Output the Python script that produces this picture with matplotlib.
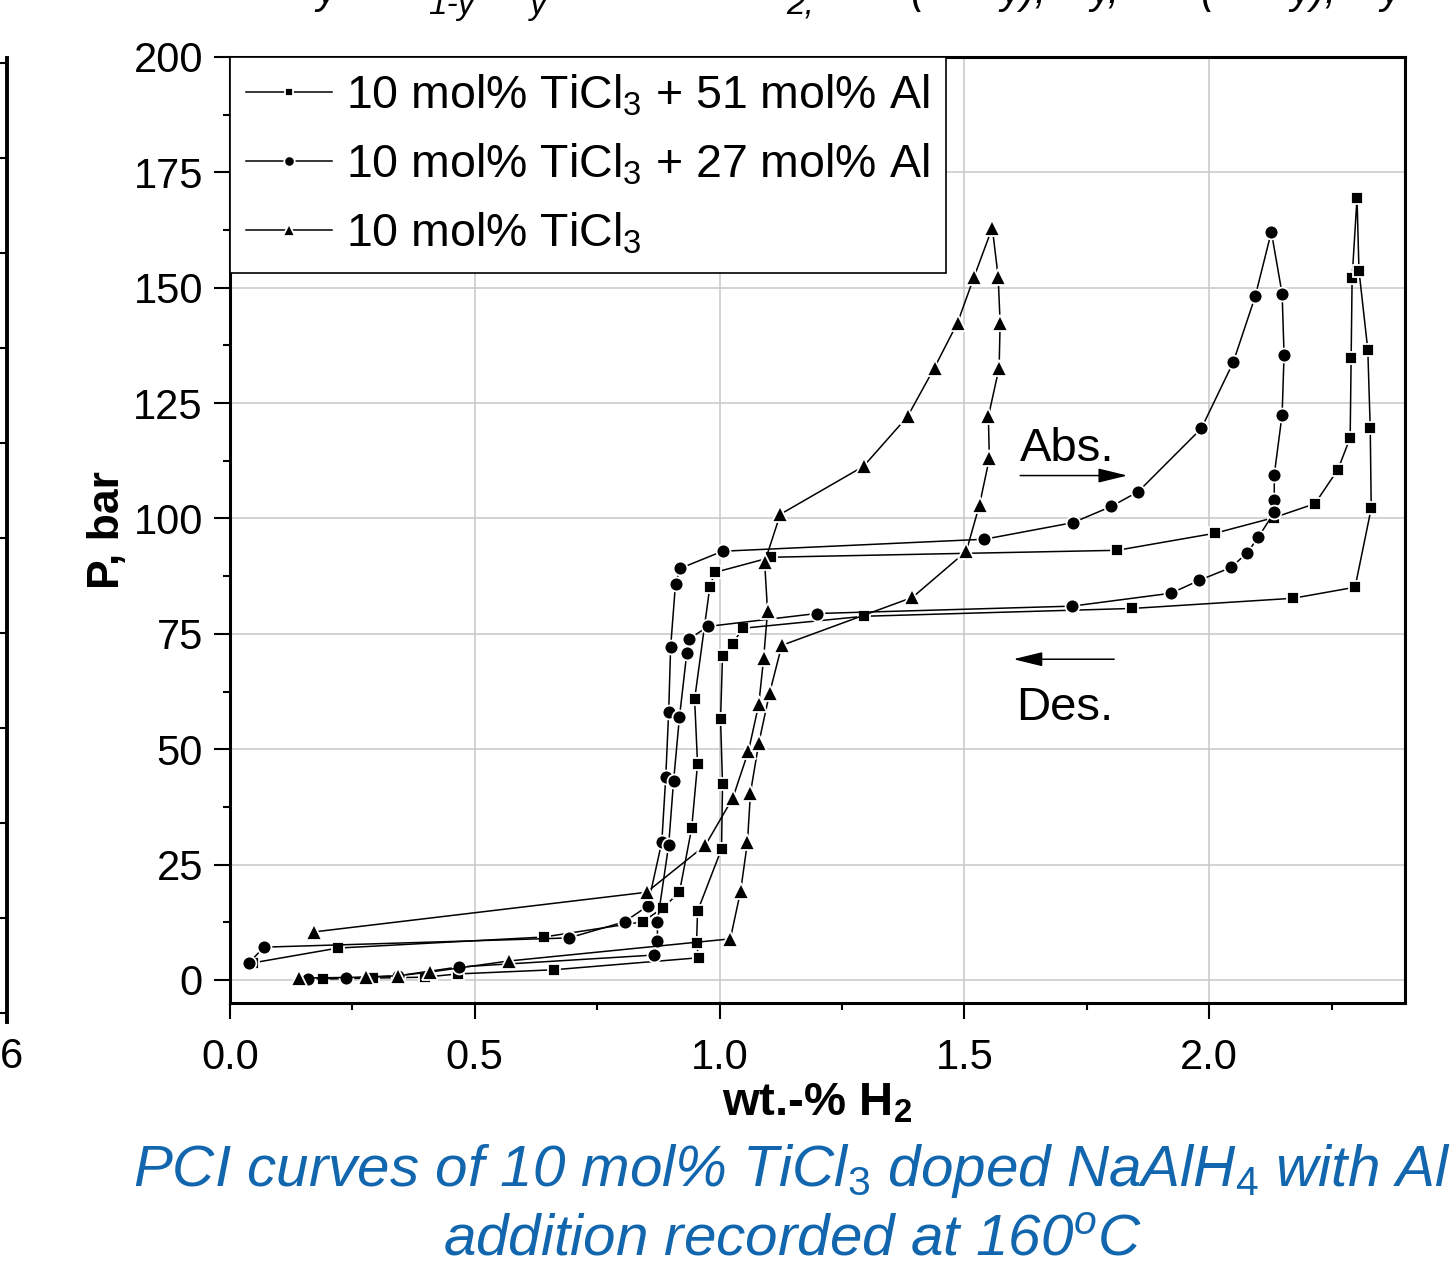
import numpy as np
import matplotlib
matplotlib.use("Agg")
import matplotlib.pyplot as plt

plt.rcParams['font.family'] = ['Liberation Sans', 'DejaVu Sans']
plt.rcParams['mathtext.fontset'] = 'custom'
plt.rcParams['mathtext.rm'] = 'Liberation Sans'
plt.rcParams['mathtext.it'] = 'Liberation Sans:italic'
plt.rcParams['mathtext.bf'] = 'Liberation Sans:bold'
plt.rcParams['mathtext.default'] = 'regular'

# 10 mol% TiCl3 + 51 mol% Al (squares): absorption then desorption
sq_x = [0.047, 0.220, 0.641, 0.843, 0.884, 0.918, 0.943, 0.955, 0.949, 0.980, 0.990, 1.106,
        1.812, 2.012, 2.133, 2.216, 2.263, 2.288, 2.290, 2.292, 2.302,
        2.306, 2.324, 2.329, 2.331, 2.298, 2.171, 1.843, 1.294, 1.047, 1.027, 1.006,
        1.002, 1.006, 1.004, 0.955, 0.953, 0.957, 0.661, 0.465, 0.398, 0.292, 0.190]
sq_p = [3.7, 6.9, 9.3, 12.6, 15.6, 19.0, 32.9, 46.8, 60.8, 85.1, 88.3, 91.6,
        93.1, 96.8, 100.2, 103.2, 110.6, 117.5, 134.8, 152.2, 169.5,
        153.7, 136.6, 119.5, 102.2, 85.1, 82.7, 80.5, 78.8, 76.2, 72.9, 70.3,
        56.5, 42.4, 28.4, 14.9, 8.0, 4.8, 2.2, 1.3, 0.6, 0.4, 0.2]

# 10 mol% TiCl3 + 27 mol% Al (circles)
ci_x = [0.039, 0.069, 0.692, 0.806, 0.853, 0.882, 0.890, 0.896, 0.900, 0.910, 0.920, 1.006,
        1.541, 1.722, 1.800, 1.855, 1.984, 2.049, 2.094, 2.127,
        2.149, 2.153, 2.149, 2.133, 2.133, 2.133, 2.100, 2.078, 2.045, 1.980, 1.922,
        1.720, 1.198, 0.976, 0.937, 0.933, 0.918, 0.906, 0.896, 0.873, 0.873, 0.867,
        0.467, 0.343, 0.237, 0.159]
ci_p = [3.7, 7.1, 9.1, 12.6, 16.0, 29.9, 43.9, 58.0, 72.1, 85.9, 89.2, 92.9,
        95.5, 99.1, 102.6, 105.8, 119.5, 133.8, 148.1, 162.1,
        148.7, 135.5, 122.5, 109.5, 103.9, 101.3, 95.9, 92.6, 89.4, 86.6, 83.8,
        81.0, 79.4, 76.6, 73.8, 70.8, 56.9, 43.1, 29.2, 12.6, 8.4, 5.4,
        2.8, 0.9, 0.4, 0.2]

# 10 mol% TiCl3 (triangles)
tr_x = [0.171, 0.851, 0.971, 1.027, 1.059, 1.080, 1.090, 1.098, 1.092, 1.124,
        1.294, 1.384, 1.439, 1.486, 1.520, 1.557,
        1.569, 1.573, 1.571, 1.549, 1.551, 1.531, 1.504, 1.394, 1.127, 1.102,
        1.080, 1.063, 1.057, 1.043, 1.022, 0.569, 0.408, 0.343, 0.278, 0.141]
tr_p = [10.4, 19.0, 29.2, 39.4, 49.6, 59.7, 69.7, 79.9, 90.5, 100.9,
        111.3, 122.1, 132.7, 142.4, 152.4, 163.0,
        152.4, 142.4, 132.7, 122.1, 113.0, 103.0, 92.9, 82.9, 72.5, 62.1,
        51.3, 40.5, 29.9, 19.3, 8.9, 4.1, 1.7, 0.9, 0.6, 0.4]

labels = [r'10 mol% TiCl$_3$ + 51 mol% Al', r'10 mol% TiCl$_3$ + 27 mol% Al', r'10 mol% TiCl$_3$']

W, H = 1451, 1270
fig = plt.figure(figsize=(W/100, H/100), dpi=100)

# main axes
ax = fig.add_axes([230/W, 1-1003/H, 1175/W, 946/H])
series = [(sq_x, sq_p, 's', 8.5), (ci_x, ci_p, 'o', 10), (tr_x, tr_p, '^', 12)]
for (xs, ps, mk, ms), lab in zip(series, labels):
    ax.plot(xs, ps, color='black', lw=1.1, marker=mk, ms=ms, mfc='black',
            mec='white', mew=1.3, label=lab, zorder=3)

ax.set_xlim(0, 2.4)
ax.set_ylim(-5, 200)
ax.set_xticks([0, 0.5, 1.0, 1.5, 2.0])
ax.set_xticklabels(['0.0', '0.5', '1.0', '1.5', '2.0'])
ax.set_xticks(np.arange(0.25, 2.4, 0.5), minor=True)
ax.set_yticks(np.arange(0, 201, 25))
ax.set_yticks(np.arange(12.5, 200, 25), minor=True)
ax.grid(True, which='major', color='#c8c8c8', lw=1.1, zorder=0)
ax.set_axisbelow(True)
ax.tick_params(which='major', direction='out', length=11.5, width=1.5, labelsize=30)
ax.tick_params(axis='y', which='major', pad=8)
ax.tick_params(axis='x', which='major', pad=14)
ax.tick_params(which='minor', direction='out', length=5, width=1.5)
for sp in ax.spines.values():
    sp.set_linewidth(2.2)

ax.set_ylabel('P, bar', fontsize=32, fontweight='bold')
ax.yaxis.set_label_coords(-0.087, 0.5)
ax.set_xlabel(r'wt.-% H$_\mathbf{2}$', fontsize=34, fontweight='bold')
ax.xaxis.set_label_coords(0.5, -0.083)

leg = ax.legend(loc='upper left', bbox_to_anchor=(0, 1), borderaxespad=0, fontsize=33.5,
                handlelength=1.85, handletextpad=0.3, borderpad=0.35, labelspacing=0.5,
                markerscale=0.75, fancybox=False, framealpha=1, edgecolor='black')
leg.get_frame().set_linewidth(1.2)

# Abs / Des annotations
ax.annotate('', xy=(1.833, 109.3), xytext=(1.614, 109.3),
            arrowprops=dict(arrowstyle='-|>,head_length=0.9,head_width=0.22', color='black',
                            lw=1.1, mutation_scale=20, shrinkA=0, shrinkB=0))
ax.annotate('', xy=(1.600, 69.5), xytext=(1.806, 69.5),
            arrowprops=dict(arrowstyle='-|>,head_length=0.9,head_width=0.22', color='black',
                            lw=1.1, mutation_scale=20, shrinkA=0, shrinkB=0))
ax.text(1.614, 115.0, 'Abs.', fontsize=34, va='center', ha='left')
ax.text(1.606, 59.0, 'Des.', fontsize=34, va='center', ha='left')

# edge of the neighbouring panel on the left
axl = fig.add_axes([-0.2, 1-1022/H, 0.2 + 7/W, 964/H])
axl.set_ylim(-0.1, 10.05)
axl.set_yticks(range(11))
axl.set_xticks([])
axl.yaxis.tick_right()
axl.tick_params(axis='y', direction='in', length=5, width=1.5, labelright=False)
for name, sp in axl.spines.items():
    sp.set_visible(name == 'right')
axl.spines['right'].set_linewidth(2.8)
fig.text(0/W, 1-1057/H, '6', fontsize=30, ha='left', va='center')

# cut-off formula fragments at the top edge
frags = [(316, 3, 'y', 30), (428, 14, '1-y', 24), (530, 14, 'y', 24), (786, 14, '2,', 24),
         (910, 3, '(', 30), (1000, 3, 'y),', 30), (1090, 3, 'y,', 30), (1200, 3, '(', 30),
         (1290, 3, 'y),', 30), (1380, 3, 'y', 30)]
for fx, fy, ft, fs in frags:
    fig.text(fx/W, 1-fy/H, ft, fontsize=fs, style='italic', ha='left', va='baseline')

# caption
cap_col = '#1266ad'
fig.text(792/W, 1-1186/H, r'PCI curves of 10 mol% TiCl$_\mathit{3}$ doped NaAlH$_\mathit{4}$ with Al',
         fontsize=42, style='italic', color=cap_col, ha='center', va='baseline')
fig.text(792/W, 1-1255/H, r'addition recorded at 160$^\mathit{o}$C',
         fontsize=42, style='italic', color=cap_col, ha='center', va='baseline')

fig.savefig('out.png', dpi=100)
